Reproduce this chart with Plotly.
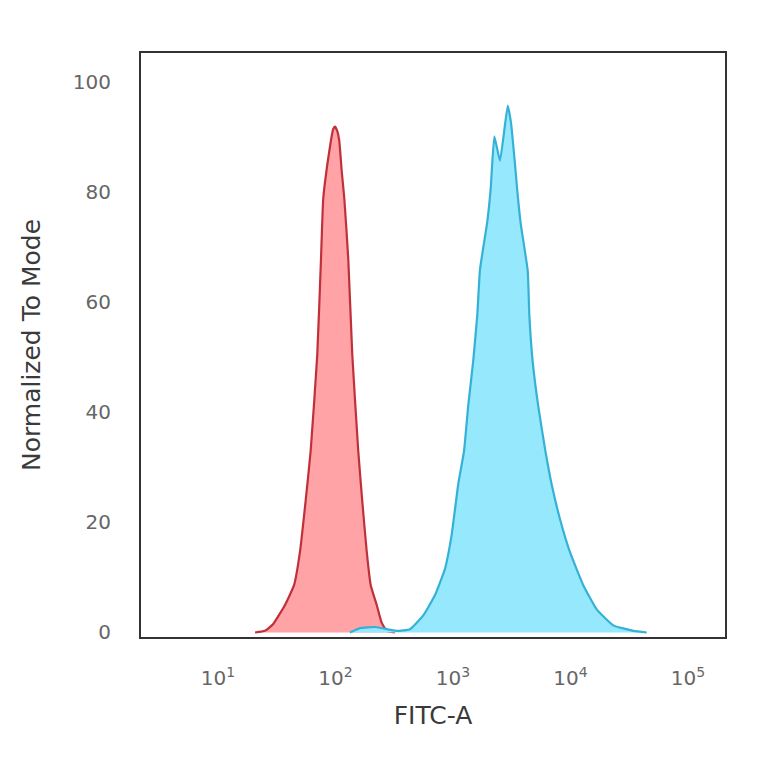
import plotly.graph_objects as go

# Isotype / negative control histogram (red)
red_fitc = [20.7, 25.1, 29.4, 37.2, 44.4, 49.9, 55.7, 61.5, 70.0, 75.3, 78.7,
            85.1, 91.6, 95.5, 99.1, 103.5, 107.6, 113.0, 118.9, 128.5, 139.0, 156.3, 169.0,
            184.5, 199.5, 224.4, 247.2, 272.9, 320.6]
red_mode = [0, 0.3, 1.5, 5.0, 8.6, 14.7, 23.9, 33.0, 50.5, 67.9, 78.9,
            85.0, 89.5, 91.5, 92.0, 91.2, 89.5, 83.9, 78.9, 67.9, 50.5, 33.0, 23.9,
            14.7, 8.6, 5.0, 1.8, 0.3, 0]

# Stained sample histogram (blue)
blue_fitc = [132.7, 161.8, 216.8, 291.1, 333.4, 430.5, 558.5, 703.1, 855.1, 975.0,
             1109, 1242, 1349, 1489, 1611, 1698, 1959, 2094, 2249, 2512, 2924,
             3119, 3327, 3524, 3767, 4325, 4467, 4764, 5321, 6124, 6918, 8147,
             9908, 12853, 16711, 23121, 34198, 44566]
blue_mode = [0, 0.8, 1.0, 0.5, 0.3, 0.6, 3.1, 6.8, 11.6, 17.8,
             27.0, 33.0, 41.3, 49.5, 57.8, 66.0, 74.7, 80.7, 90.2, 85.8, 95.8,
             92.6, 86.5, 80.4, 74.4, 65.8, 57.6, 49.3, 41.1, 32.9, 26.9, 20.6,
             14.6, 8.6, 4.2, 1.3, 0.3, 0]

x_tickvals = [10, 100, 1000, 10000, 100000]
x_ticktext = ["10<sup>1</sup>", "10<sup>2</sup>", "10<sup>3</sup>", "10<sup>4</sup>", "10<sup>5</sup>"]
y_tickvals = [0, 20, 40, 60, 80, 100]

fig = go.Figure()
fig.add_trace(go.Scatter(
    x=red_fitc, y=red_mode, mode="lines", fill="tozeroy",
    line=dict(color="#C0303A", width=2.2, shape="spline", smoothing=0.4),
    fillcolor="#FFA3A6", showlegend=False, hoverinfo="skip"))
fig.add_trace(go.Scatter(
    x=blue_fitc, y=blue_mode, mode="lines", fill="tozeroy",
    line=dict(color="#35B1D6", width=2.2, shape="spline", smoothing=0.4),
    fillcolor="#96E8FC", showlegend=False, hoverinfo="skip"))

font_fam = "DejaVu Sans"
fig.update_layout(
    width=764, height=764,
    margin=dict(l=133, r=47, t=45, b=135),
    paper_bgcolor="white", plot_bgcolor="white",
    font=dict(family=font_fam, color="#555555"),
    xaxis=dict(
        type="log", range=[0.345, 5.315],
        tickvals=x_tickvals, ticktext=x_ticktext,
        tickfont=dict(size=20, color="#666666"),
        showgrid=False, zeroline=False, ticks="",
        ticklabelstandoff=22,
        showline=True, mirror=True, linecolor="#333333", linewidth=2,
        title=dict(text="FITC-A", font=dict(size=25, color="#3a3a3a"), standoff=17),
    ),
    yaxis=dict(
        range=[-0.82, 105.36],
        tickvals=y_tickvals,
        tickfont=dict(size=20, color="#666666"),
        showgrid=False, zeroline=False, ticks="",
        ticklabelstandoff=24,
        showline=True, mirror=True, linecolor="#333333", linewidth=2,
        title=dict(text="Normalized To Mode", font=dict(size=25, color="#3a3a3a"), standoff=25),
    ),
)

fig.write_html("out.html")
